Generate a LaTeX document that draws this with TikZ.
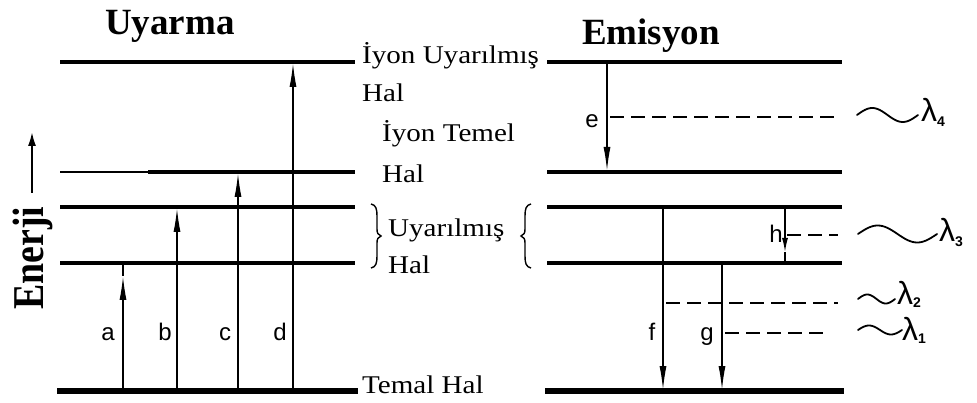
\documentclass[tikz,border=0pt]{standalone}
\usepackage{fontspec}
\setmainfont{Liberation Serif}
\newfontfamily\lvlfont[FakeStretch=1.14]{Liberation Serif}
\newfontfamily\lblfont{Liberation Sans}
\usetikzlibrary{arrows.meta}
\begin{document}
\begin{tikzpicture}[x=1pt,y=-1pt,
  lvl/.style={line width=3.4pt},
  lvlthick/.style={line width=4.2pt},
  lvlground/.style={line width=5.5pt},
  trans/.style={line width=1.4pt},
  tipup/.style={-{Latex[length=24pt,width=7pt]}},
  tipsmall/.style={-{Latex[length=14pt,width=6pt]}},
  dashline/.style={line width=1.1pt, dash pattern=on 14pt off 7pt},
  lvltext/.style={font=\lvlfont\fontsize{25.5}{28}\selectfont, anchor=base west, inner sep=0pt},
  titletext/.style={font=\bfseries\fontsize{37}{40}\selectfont, anchor=base west, inner sep=0pt},
  letter/.style={font=\lblfont\fontsize{24}{26}\selectfont, anchor=base, inner sep=0pt},
  lam/.style={font=\lblfont\fontsize{32}{34}\selectfont, anchor=base west, inner sep=0pt},
  wave/.style={line width=1.8pt, line cap=round},
  bracepath/.style={line width=1.4pt}
]
\useasboundingbox (0,0) rectangle (977,403);

% ---------- titles ----------
\node[titletext] (tU) at (105,35) {Uyarma};
\node[titletext] (tE) at (582,45) {Emisyon};

% ---------- energy axis ----------
\coordinate (en0) at (32,193);
\coordinate (en1) at (32,132);
\draw[line width=1.9pt,-{Latex[length=14pt,width=8pt]}] (en0) -- (en1);
\node[rotate=90, anchor=base, inner sep=0pt, font=\bfseries\fontsize{44}{46}\selectfont] (en) at (43,258) {\scalebox{0.86}[1]{Enerji}};

% ---------- left levels ----------
\coordinate (L5a) at (60,62);   \coordinate (L5b) at (355,62);
\coordinate (L4a) at (60,172);  \coordinate (L4m) at (148,172); \coordinate (L4b) at (355,172);
\coordinate (L3a) at (60,207);  \coordinate (L3b) at (355,207);
\coordinate (L2a) at (60,263);  \coordinate (L2b) at (355,263);
\coordinate (L1a) at (57,391);  \coordinate (L1b) at (358,391);
\draw[lvl] (L5a) -- (L5b);
\draw[line width=2.8pt] (L4a) -- (L4m);
\draw[lvlthick] (L4m) -- (L4b);
\draw[lvl] (L3a) -- (L3b);
\draw[lvlthick] (L2a) -- (L2b);
\draw[lvlground] (L1a) -- (L1b);

% ---------- right levels ----------
\coordinate (R5a) at (547,62);  \coordinate (R5b) at (842,62);
\coordinate (R4a) at (547,172); \coordinate (R4b) at (842,172);
\coordinate (R3a) at (547,207); \coordinate (R3b) at (842,207);
\coordinate (R2a) at (547,263); \coordinate (R2b) at (842,263);
\coordinate (R1a) at (545,391); \coordinate (R1b) at (844,391);
\draw[lvl] (R5a) -- (R5b);
\draw[lvl] (R4a) -- (R4b);
\draw[lvl] (R3a) -- (R3b);
\draw[lvlthick] (R2a) -- (R2b);
\draw[lvlground] (R1a) -- (R1b);

% ---------- excitation arrows ----------
\coordinate (a0) at (123,391); \coordinate (a1) at (123,276); \coordinate (a2) at (123,263);
\draw[trans,tipup] (a0) -- (a1);
\draw[trans] (a1) -- (a2);
\coordinate (b0) at (177,391); \coordinate (b1) at (177,208);
\draw[trans,tipup] (b0) -- (b1);
\coordinate (c0) at (238,391); \coordinate (c1) at (238,173);
\draw[trans,tipup] (c0) -- (c1);
\coordinate (d0) at (293,391); \coordinate (d1) at (293,63);
\draw[trans,tipup] (d0) -- (d1);
\node[letter] (la) at (108,340) {a};
\node[letter] (lb) at (165,340) {b};
\node[letter] (lc) at (225,340) {c};
\node[letter] (ld) at (280,340) {d};

% ---------- emission arrows ----------
\coordinate (e0) at (607,62);  \coordinate (e1) at (607,171); \coordinate (e2) at (607,117);
\draw[trans,tipup] (e0) -- (e1);
\coordinate (f0) at (663,207); \coordinate (f1) at (663,390); \coordinate (f2) at (663,303);
\draw[trans,tipup] (f0) -- (f1);
\coordinate (g0) at (722,263); \coordinate (g1) at (722,390); \coordinate (g2) at (722,333);
\draw[trans,tipup] (g0) -- (g1);
\coordinate (h0) at (785,207); \coordinate (h1) at (785,252); \coordinate (h2) at (785,263);
\coordinate (h3) at (785,235);
\draw[trans,tipsmall] (h0) -- (h1);
\draw[trans] (h1) -- (h2);
\node[letter] (le) at (592,128) {e};
\node[letter] (lf) at (652,340) {f};
\node[letter] (lg) at (707,340) {g};
\node[letter] (lh) at (776,243) {h};

% ---------- dashed emission lines ----------
\coordinate (d4) at (838,117);
\coordinate (d3) at (838,235);
\coordinate (d2) at (838,303);
\coordinate (d1e) at (830,333);
\draw[dashline] ([xshift=3pt]e2) -- (d4);
\draw[dashline] ([xshift=2pt]h3) -- (d3);
\draw[dashline] ([xshift=3pt]f2) -- (d2);
\draw[dashline] ([xshift=3pt]g2) -- (d1e);

% ---------- waves and wavelengths ----------
\draw[wave] plot[variable=\t,domain=0:360,samples=50,smooth] ({857+\t/360*61},{115-7*sin(\t)});
\node[lam] (lam4) at (921,122) {λ\raisebox{-5pt}{\fontsize{14}{14}\selectfont\bfseries 4}};
\draw[wave] plot[variable=\t,domain=0:360,samples=50,smooth] ({858+\t/360*79},{234-8.5*sin(\t)});
\node[lam] (lam3) at (939,242) {λ\raisebox{-5pt}{\fontsize{14}{14}\selectfont\bfseries 3}};
\draw[wave] plot[variable=\t,domain=0:360,samples=40,smooth] ({858+\t/360*37},{299-4.5*sin(\t)});
\node[lam] (lam2) at (897,305) {λ\raisebox{-3pt}{\fontsize{14}{14}\selectfont\bfseries 2}};
\draw[wave] plot[variable=\t,domain=0:360,samples=40,smooth] ({858+\t/360*44},{330-4.5*sin(\t)});
\node[lam] (lam1) at (902,340) {λ\raisebox{-3pt}{\fontsize{14}{14}\selectfont\bfseries 1}};

% ---------- level labels ----------
\node[lvltext] (t5a) at (362,64) {İyon Uyarılmış};
\node[lvltext] (t5b) at (362,102) {Hal};
\node[lvltext] (t4a) at (382,142) {İyon Temel};
\node[lvltext] (t4b) at (382,183) {Hal};
\node[lvltext] (t3a) at (388,237) {Uyarılmış};
\node[lvltext] (t3b) at (388,274) {Hal};
\node[lvltext] (t1) at (362,393) {Temal Hal};

% ---------- braces ----------
\draw[bracepath] (371,204) .. controls (376,205) and (377,209) .. (377,216) -- (377,229)
   .. controls (377,233) and (378,235) .. (381,236)
   .. controls (378,237) and (377,239) .. (377,243) -- (377,256)
   .. controls (377,263) and (376,267) .. (371,268);
\draw[bracepath] (531,204) .. controls (526,205) and (525,209) .. (525,216) -- (525,229)
   .. controls (525,233) and (524,235) .. (521,236)
   .. controls (524,237) and (525,239) .. (525,243) -- (525,256)
   .. controls (525,263) and (526,267) .. (531,268);
\end{tikzpicture}
\end{document}
